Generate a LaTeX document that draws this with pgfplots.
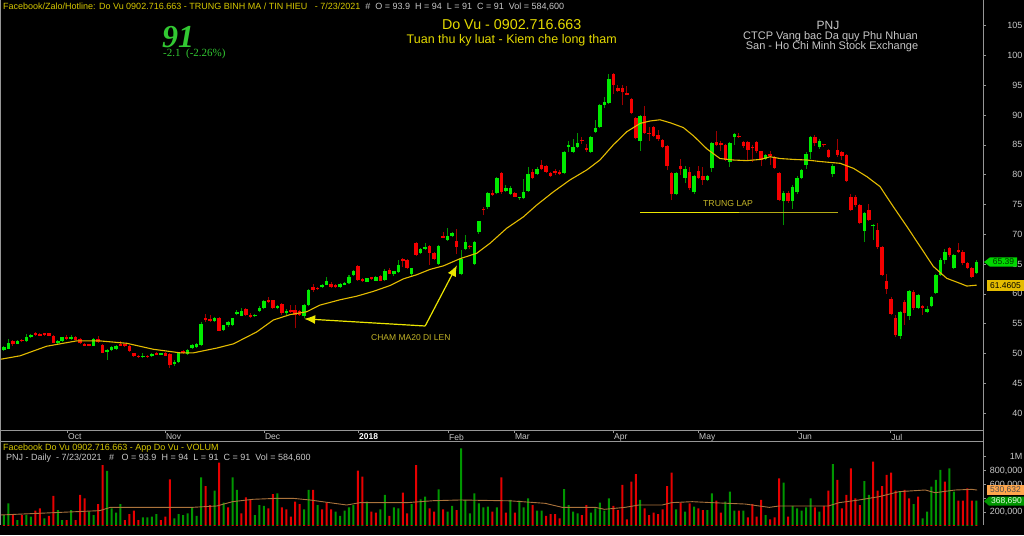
\documentclass[border=0pt]{standalone}
\usepackage{pgfplots}
\pgfplotsset{compat=1.18}
\usepackage{pgfplotstable}
\usepackage{fontspec}
\setmainfont{Liberation Sans}
\newfontfamily\tnr{Liberation Serif}
\usetikzlibrary{arrows.meta}
\definecolor{cg}{RGB}{0,235,0}
\definecolor{cgw}{RGB}{0,150,0}
\definecolor{cr}{RGB}{245,0,0}
\definecolor{crw}{RGB}{160,0,0}
\definecolor{vg}{RGB}{0,150,0}
\definecolor{vr}{RGB}{230,0,0}
\definecolor{ma}{RGB}{228,188,0}
\definecolor{vma}{RGB}{170,115,60}
\definecolor{hdr}{RGB}{215,200,0}
\definecolor{ttl}{RGB}{228,218,0}
\definecolor{gtxt}{RGB}{200,200,200}
\definecolor{axg}{RGB}{150,150,150}
\definecolor{big}{RGB}{50,200,50}
\definecolor{ann}{RGB}{235,230,0}
\definecolor{anntxt}{RGB}{195,180,40}
\definecolor{olive}{RGB}{180,170,20}
\definecolor{lblg}{RGB}{0,215,0}

\pgfplotstableread{
i o h l c
0 50.6 51.2 50.4 51.0
1 50.8 52.4 50.7 51.7
2 52.0 52.2 51.3 51.5
3 51.6 52.2 51.5 52.0
4 52.2 52.4 51.9 52.0
5 52.0 53.3 51.9 52.8
6 52.8 53.3 52.6 53.0
7 53.4 53.6 53.0 53.1
8 53.3 53.5 52.9 53.0
9 53.3 53.5 53.0 53.1
10 53.4 53.5 52.9 53.0
11 52.9 53.1 51.7 51.8
12 51.8 52.3 51.6 52.1
13 52.0 52.8 51.9 52.7
14 52.7 53.1 52.3 52.4
15 52.4 53.1 52.3 52.8
16 52.8 53.0 52.2 52.3
17 52.4 52.6 51.6 51.7
18 51.6 51.8 51.2 51.3
19 51.4 51.6 51.2 51.3
20 51.3 52.6 51.2 52.4
21 52.5 53.0 51.8 51.9
22 51.4 51.6 50.0 50.1
23 50.3 50.7 48.9 50.5
24 50.5 51.2 50.4 51.1
25 50.7 51.4 50.6 51.3
26 51.5 52.0 51.2 51.3
27 51.5 51.6 51.1 51.2
28 51.2 51.4 50.3 50.4
29 50.0 50.1 49.4 49.5
30 49.6 49.8 49.3 49.4
31 49.4 50.0 49.3 49.6
32 49.6 49.8 49.3 49.4
33 49.5 50.0 49.4 49.9
34 50.0 50.3 49.7 49.8
35 49.8 50.1 49.7 50.0
36 50.0 50.2 49.5 49.6
37 49.9 50.0 47.6 48.0
38 48.3 48.9 47.9 48.6
39 48.6 50.1 48.4 50.0
40 50.3 50.5 49.9 50.1
41 49.9 50.7 49.8 50.6
42 50.9 51.6 50.8 51.4
43 51.0 51.7 50.9 51.5
44 51.4 55.2 51.3 55.0
45 56.0 56.6 55.2 55.6
46 55.8 56.5 55.3 55.5
47 55.5 56.1 55.3 55.9
48 55.9 56.1 53.7 53.8
49 53.9 54.8 53.7 54.7
50 54.7 55.4 54.5 55.3
51 54.8 56.0 54.6 55.9
52 56.6 57.3 56.4 57.0
53 56.3 57.6 56.2 57.2
54 57.4 57.7 56.3 56.45
55 56.45 56.7 55.9 56.1
56 56.2 56.6 56.1 56.45
57 57.2 57.9 56.9 57.7
58 57.6 59.0 57.4 58.85
59 59.0 59.5 58.4 58.6
60 58.9 59.0 57.5 57.7
61 57.6 58.1 57.4 57.9
62 58.3 58.5 56.5 56.7
63 56.7 57.4 56.5 57.2
64 57.3 58.1 56.8 57.0
65 57.3 58.1 54.2 56.45
66 57.1 57.3 56.3 56.45
67 56.2 58.3 56.0 58.2
68 58.1 60.8 57.9 60.6
69 61.1 61.6 60.3 60.7
70 61.0 61.2 60.6 60.8
71 61.1 61.7 61.0 61.5
72 61.5 62.8 61.4 62.2
73 61.7 61.9 61.0 61.1
74 61.5 61.7 61.0 61.1
75 61.1 61.8 61.0 61.7
76 61.5 61.9 61.4 61.7
77 61.8 63.1 61.7 62.9
78 63.2 64.0 63.0 63.9
79 64.7 64.9 62.2 62.3
80 62.5 62.7 62.0 62.2
81 62.0 62.7 61.9 62.6
82 62.7 62.9 62.3 62.5
83 62.2 63.0 62.1 62.9
84 63.0 63.2 62.1 62.2
85 62.3 64.1 62.2 63.9
86 64.0 64.4 63.3 63.4
87 63.3 63.9 63.0 63.8
88 63.6 65.6 63.5 64.9
89 65.8 66.0 64.5 65.5
90 65.6 65.8 64.2 64.3
91 63.4 64.4 62.9 64.3
92 68.5 68.7 66.4 66.5
93 66.9 67.7 66.7 67.6
94 67.5 68.5 67.4 67.8
95 68.0 68.2 64.9 66.9
96 66.9 67.0 65.7 65.8
97 65.0 68.2 64.9 68.1
98 69.7 70.3 69.3 69.4
99 69.0 71.0 68.9 69.7
100 69.7 70.4 69.5 70.2
101 68.9 70.8 66.6 67.9
102 63.3 67.4 63.1 65.8
103 67.5 69.9 67.3 68.7
104 68.0 68.2 67.6 67.8
105 65.0 68.9 64.8 68.7
106 70.3 72.3 70.1 72.2
107 74.3 74.6 73.2 74.0
108 74.5 77.0 74.3 76.9
109 76.9 77.5 76.4 76.6
110 76.9 79.6 76.7 79.5
111 80.2 80.4 76.8 77.0
112 77.3 78.3 77.1 77.7
113 76.8 78.1 76.6 77.7
114 76.9 77.1 76.2 76.3
115 76.0 76.3 75.8 76.1
116 76.0 79.3 75.9 77.0
117 77.3 81.2 77.1 80.1
118 80.5 81.0 79.2 79.4
119 80.1 81.2 79.9 81.0
120 81.6 82.4 80.7 80.9
121 81.4 81.6 80.3 80.5
122 80.2 80.4 79.6 79.8
123 80.6 81.0 80.0 80.2
124 80.5 80.7 79.9 80.1
125 80.3 84.0 80.1 83.8
126 84.7 85.7 83.8 85.0
127 83.8 86.0 83.6 84.7
128 84.6 87.0 84.4 85.3
129 85.8 86.3 85.2 85.6
130 84.4 85.1 83.8 84.1
131 83.8 86.5 83.6 86.3
132 87.2 89.2 87.0 87.8
133 88.0 91.9 87.8 91.7
134 91.7 93.0 91.2 92.2
135 92.1 96.9 91.9 96.0
136 96.9 97.0 93.6 95.1
137 94.5 95.0 93.9 94.1
138 94.6 95.0 91.6 93.8
139 93.6 94.9 93.3 93.4
140 92.7 92.9 90.1 90.3
141 89.5 89.7 85.9 86.1
142 85.7 90.0 84.0 89.8
143 89.8 91.5 86.8 87.0
144 87.0 88.0 85.7 86.8
145 88.0 88.2 86.3 86.5
146 86.6 87.5 85.7 85.9
147 85.8 86.0 84.4 84.6
148 84.8 85.0 80.7 81.4
149 80.2 80.5 75.7 76.7
150 76.7 80.5 76.5 80.3
151 81.4 82.7 80.0 80.9
152 79.5 81.5 78.6 81.0
153 80.5 81.2 77.4 77.7
154 77.0 80.0 76.8 79.7
155 80.6 81.5 79.3 79.5
156 79.7 81.3 78.3 79.1
157 79.1 80.0 78.9 79.7
158 81.05 85.5 80.5 85.25
159 85.4 87.4 84.8 85.0
160 85.3 85.6 84.0 85.0
161 85.0 85.2 82.3 82.5
162 82.2 85.5 81.3 85.3
163 86.3 87.0 85.0 86.8
164 86.5 86.9 86.1 86.3
165 85.4 85.6 84.5 84.8
166 85.4 85.6 82.3 84.2
167 84.7 85.0 82.2 84.4
168 85.5 85.7 83.7 83.9
169 83.9 84.0 81.4 82.5
170 82.6 83.5 82.4 83.3
171 83.5 83.9 81.6 83.1
172 83.0 83.2 80.9 81.1
173 80.2 80.5 75.5 75.8
174 75.5 77.3 71.5 76.9
175 76.9 77.3 75.3 75.5
176 75.5 78.2 74.3 77.9
177 77.0 79.7 76.8 79.5
178 79.5 81.0 79.2 80.7
179 81.6 83.8 81.0 83.5
180 83.85 86.5 82.7 86.25
181 86.25 86.6 84.8 85.25
182 84.7 86.0 84.3 85.7
183 85.0 85.2 84.7 84.9
184 84.1 84.3 82.8 83.0
185 80.1 81.7 79.6 81.45
186 84.1 85.9 83.0 83.3
187 83.85 84.0 82.5 83.1
188 83.3 83.5 78.8 79.0
189 76.3 76.8 73.9 74.1
190 76.3 76.5 74.5 74.9
191 74.9 75.0 71.7 71.9
192 70.6 73.7 68.7 73.5
193 74.1 75.0 72.2 72.4
194 71.3 71.7 69.0 71.5
195 70.7 71.8 67.6 67.8
196 67.9 68.0 63.0 63.2
197 62.2 63.3 60.0 60.75
198 59.2 59.5 56.4 56.6
199 55.9 56.5 52.7 53.1
200 52.9 57.2 52.5 57.0
201 58.7 59.0 54.8 56.85
202 56.2 60.6 55.6 60.4
203 60.25 60.7 57.3 57.6
204 57.6 60.0 57.4 59.8
205 57.9 58.1 56.5 57.6
206 57.0 58.0 56.8 57.4
207 57.96 59.6 57.8 59.4
208 60.1 63.4 60.0 63.2
209 63.2 66.0 63.0 65.7
210 65.6 67.6 65.0 67.1
211 67.7 67.8 66.2 66.5
212 64.3 66.7 64.1 66.5
213 67.3 68.6 66.8 67.0
214 67.1 67.3 64.9 65.1
215 65.1 65.3 64.1 64.3
216 64.3 64.5 62.7 62.9
217 63.55 65.6 63.4 65.39
}\candles

\pgfplotstableread{
i v g
0 161000 1
1 329000 1
2 161000 0
3 89000 1
4 161000 0
5 161000 1
6 137000 1
7 224000 0
8 257000 0
9 113000 1
10 147000 0
11 435000 0
12 233000 1
13 89000 1
14 89000 0
15 233000 1
16 89000 0
17 449000 0
18 401000 0
19 209000 1
20 161000 1
21 319000 0
22 880000 0
23 795000 1
24 257000 1
25 195000 1
26 319000 1
27 89000 0
28 175000 0
29 224000 0
30 89000 0
31 127000 1
32 127000 1
33 137000 1
34 175000 1
35 89000 0
36 137000 0
37 674000 0
38 113000 1
39 175000 1
40 161000 1
41 185000 1
42 271000 1
43 147000 1
44 703000 1
45 578000 0
46 305000 0
47 511000 1
48 913000 0
49 339000 1
50 271000 0
51 703000 1
52 521000 1
53 185000 0
54 415000 0
55 387000 0
56 161000 1
57 305000 1
58 291000 1
59 257000 0
60 463000 0
61 473000 1
62 271000 0
63 243000 0
64 137000 0
65 353000 0
66 319000 0
67 243000 1
68 521000 1
69 521000 0
70 305000 1
71 243000 0
72 339000 0
73 243000 0
74 209000 1
75 147000 1
76 224000 1
77 271000 1
78 305000 1
79 799000 0
80 713000 0
81 353000 1
82 209000 0
83 195000 0
84 243000 1
85 449000 1
86 147000 0
87 271000 1
88 257000 1
89 482000 0
90 185000 0
91 319000 1
92 880000 0
93 387000 1
94 425000 1
95 257000 0
96 209000 0
97 530000 1
98 243000 0
99 209000 1
100 291000 1
101 233000 0
102 1120000 1
103 377000 1
104 185000 1
105 473000 1
106 329000 1
107 271000 1
108 281000 1
109 209000 0
110 271000 1
111 703000 0
112 195000 0
113 377000 1
114 195000 0
115 367000 1
116 271000 1
117 401000 1
118 305000 0
119 224000 1
120 224000 1
121 147000 0
122 175000 0
123 175000 0
124 113000 0
125 535000 1
126 305000 1
127 209000 1
128 185000 1
129 161000 0
130 305000 0
131 195000 1
132 257000 1
133 339000 1
134 224000 1
135 401000 1
136 291000 0
137 233000 0
138 593000 0
139 99000 0
140 641000 0
141 751000 0
142 377000 1
143 257000 0
144 161000 0
145 195000 0
146 175000 0
147 243000 0
148 578000 0
149 770000 0
150 243000 1
151 339000 0
152 209000 1
153 329000 0
154 281000 1
155 257000 0
156 233000 0
157 233000 1
158 473000 1
159 367000 0
160 195000 0
161 353000 1
162 497000 1
163 224000 1
164 224000 0
165 224000 1
166 127000 0
167 319000 0
168 137000 0
169 377000 0
170 161000 1
171 99000 0
172 127000 0
173 689000 0
174 626000 1
175 137000 0
176 291000 1
177 257000 1
178 224000 1
179 271000 1
180 401000 1
181 271000 0
182 209000 1
183 291000 0
184 511000 0
185 894000 1
186 665000 0
187 257000 0
188 449000 0
189 833000 0
190 401000 0
191 305000 0
192 650000 1
193 449000 1
194 928000 0
195 511000 0
196 578000 0
197 737000 0
198 770000 0
199 511000 0
200 506000 1
201 521000 0
202 401000 0
203 319000 1
204 425000 0
205 113000 1
206 209000 1
207 569000 1
208 665000 1
209 809000 1
210 641000 0
211 833000 1
212 497000 1
213 367000 0
214 367000 0
215 545000 0
216 367000 0
217 368690 1
}\vol

\begin{document}
\begin{tikzpicture}[x=1pt,y=1pt]
\useasboundingbox (0pt,0pt) rectangle (1024pt,535pt);
\fill[black] (0pt,0pt) rectangle (1024pt,535pt);

% ---------------- price panel ----------------
\begin{axis}[
  at={(0pt,105pt)}, anchor=south west,
  width=983pt, height=430pt, scale only axis,
  xmin=-0.89, xmax=218.5, ymin=37.15, ymax=109.3,
  axis x line*=bottom, axis y line*=right,
  axis line style={draw=axg, line width=0.8pt, -},
  xtick={14.06,35.9,58.0,79.0,99.1,113.8,135.9,154.9,177.0,197.8},
  xticklabels={Oct,Nov,Dec,\textbf{\color{white}2018},Feb,Mar,Apr,May,Jun,Jul},
  ytick={40,45,...,105},
  tick align=outside, major tick length=3pt,
  tick style={draw=axg, line width=0.6pt},
  xticklabel style={font=\fontsize{8.5}{9}\selectfont, text=gtxt, anchor=west, yshift=-4pt, xshift=0.5pt, inner sep=0.5pt},
  yticklabel style={font=\fontsize{9}{9}\selectfont, text=gtxt, anchor=east, xshift=40pt},
  /pgf/number format/assume math mode=true,
  clip=true,
]
% wicks (rows of the other colour get a zero-length, invisible bar)
\addplot[draw=none, mark=none, forget plot, error bars/.cd, y dir=plus, y explicit, error mark=none,
  error bar style={draw=cgw, line width=1pt, solid, line cap=butt}]
  table[x=i, y=l, y error plus expr={ifthenelse(\thisrow{c}>=\thisrow{o},\thisrow{h}-\thisrow{l},0)}] {\candles};
\addplot[draw=none, mark=none, forget plot, error bars/.cd, y dir=plus, y explicit, error mark=none,
  error bar style={draw=crw, line width=1pt, solid, line cap=butt}]
  table[x=i, y=l, y error plus expr={ifthenelse(\thisrow{c}<\thisrow{o},\thisrow{h}-\thisrow{l},0)}] {\candles};
% bodies
\addplot[draw=none, mark=none, forget plot, error bars/.cd, y dir=plus, y explicit, error mark=none,
  error bar style={draw=cg, line width=3.5pt, solid, line cap=butt}]
  table[x=i, y=o, y error plus expr={ifthenelse(\thisrow{c}>=\thisrow{o},max(\thisrow{c}-\thisrow{o},0.25),0)}] {\candles};
\addplot[draw=none, mark=none, forget plot, error bars/.cd, y dir=plus, y explicit, error mark=none,
  error bar style={draw=cr, line width=3.5pt, solid, line cap=butt}]
  table[x=i, y=c, y error plus expr={ifthenelse(\thisrow{c}<\thisrow{o},max(\thisrow{o}-\thisrow{c},0.25),0)}] {\candles};
% MA20
\addplot[ma, line width=1.1pt, mark=none] coordinates {
(-0.9,49.0) (3.6,49.6) (9.5,51.2) (16.2,52.1) (21.4,52.1) (27.4,51.7) (33.3,50.7) (39.3,50.1)
(42.3,50.1) (47.5,50.9) (51.2,51.6) (56.4,53.6) (60.1,55.6) (63.8,56.5) (67.6,57.0) (70.5,58.1)
(75.0,59.0) (78.7,59.6) (82.4,60.4) (86.2,61.4) (89.1,62.5) (92.1,63.2) (95.1,64.1) (98.1,64.7)
(101.8,65.9) (105.5,66.8) (108.5,68.5) (112.2,71.0) (115.9,72.9) (118.9,74.9) (122.6,77.1)
(126.3,79.1) (130.1,80.8) (133.0,82.45) (136.0,85.0) (139.0,87.2) (142.0,88.6) (144.2,89.0)
(146.4,89.2) (148.7,88.7) (151.6,87.9) (153.9,86.5) (156.9,84.3) (159.8,82.7) (162.8,82.45)
(165.8,82.35) (168.8,82.55) (171.0,83.0) (173.2,82.7) (176.2,82.55) (179.2,82.45) (182.1,82.2)
(186.6,81.9) (189.6,81.05) (192.6,79.65) (195.5,78.0) (198.5,74.6) (201.5,71.3) (204.5,67.9)
(207.4,64.6) (210.4,62.6) (213.4,61.75) (214.9,61.3) (217.1,61.46)};
% annotations
\draw[ann, line width=1.2pt, -{Latex[length=11pt,width=9pt]}] (axis cs:94.0,54.6) -- (axis cs:67.0,55.8);
\draw[ann, line width=1.2pt, -{Latex[length=11pt,width=9pt]}] (axis cs:94.0,54.6) -- (axis cs:101.1,64.8);
\node[anchor=base west, inner sep=0pt, text=anntxt, font=\fontsize{8.5}{9}\selectfont] at (axis cs:81.9,52.25) {CHAM MA20 DI LEN};
\draw[ann, line width=1.1pt] (axis cs:142.0,73.6) -- (axis cs:164.1,73.6);
\draw[olive, line width=1.1pt] (axis cs:164.1,73.65) -- (axis cs:186.2,73.65);
\node[anchor=base west, inner sep=0pt, text=anntxt, font=\fontsize{8.7}{9}\selectfont] at (axis cs:156.0,74.7) {TRUNG LAP};
\end{axis}

% ---------------- volume panel ----------------
\begin{axis}[
  at={(0pt,10pt)}, anchor=south west,
  width=983pt, height=84pt, scale only axis,
  xmin=-0.89, xmax=218.5, ymin=17300, ymax=1225800,
  axis x line=none, axis y line*=right,
  axis line style={draw=axg, line width=0.8pt, -},
  ytick={200000,400000,600000,800000,1000000},
  yticklabels={{200,000},{},{600,000},{800,000},{1M}},
  scaled y ticks=false,
  tick align=outside, major tick length=3pt,
  tick style={draw=axg, line width=0.6pt},
  yticklabel style={font=\fontsize{9}{9}\selectfont, text=gtxt, anchor=east, xshift=40pt},
  clip=true,
]
\addplot[ybar, bar width=2pt, bar shift=0pt, fill=vg, draw=none, forget plot]
  table[x=i, y expr={\thisrow{v}*\thisrow{g}}] {\vol};
\addplot[ybar, bar width=2pt, bar shift=0pt, fill=vr, draw=none, forget plot]
  table[x=i, y expr={\thisrow{v}*(1-\thisrow{g})}] {\vol};
\addplot[vma, line width=0.9pt, mark=none] coordinates {
(-0.9,161000) (21.4,224000) (23.7,271000) (42,271000) (47.5,291000) (51,353000) (55.6,387000)
(61,401000) (64.5,401000) (68.3,377000) (76.5,305000) (79.5,339000) (90,339000) (95.8,367000)
(101.8,377000) (113,365000) (120.8,329000) (124.6,271000) (132,271000) (134,243000) (138.6,271000)
(141.7,305000) (146.9,305000) (149,339000) (153.6,353000) (158,339000) (165.4,319000) (170.8,271000)
(173,291000) (184,291000) (186.4,339000) (190.8,377000) (195.3,425000) (199.8,497000) (205.6,521000)
(207.8,482000) (212.3,521000) (216,530000) (217.2,520000)};
\end{axis}

% ---------------- frame and strip ----------------
\draw[axg, line width=0.8pt] (0pt,94pt) -- (983pt,94pt);
\draw[axg, line width=0.8pt] (983pt,94pt) -- (983pt,105pt);
\draw[axg, line width=0.8pt] (0.5pt,10pt) -- (0.5pt,535pt);

% ---------------- texts ----------------
\node[anchor=base west, inner sep=0pt, font=\fontsize{9}{9}\selectfont] at (3pt,525.7pt)
 {\color{hdr}Facebook/Zalo/Hotline: Do Vu 0902.716.663 - TRUNG BINH MA / TIN HIEU\ \ \ - 7/23/2021\ \ \color{gtxt}\#\ \ O = 93.9\ \ H = 94\ \ L = 91\ \ C = 91\ \ Vol = 584,600};
\node[anchor=base west, inner sep=0pt, text=big, font=\tnr\bfseries\itshape\fontsize{32}{32}\selectfont] at (162pt,487pt) {91};
\node[anchor=base west, inner sep=0pt, text=big, font=\tnr\fontsize{11}{11}\selectfont] at (163pt,478pt) {-2.1\ \ (-2.26\%)};
\node[anchor=base, inner sep=0pt, text=ttl, font=\fontsize{14.3}{15}\selectfont] at (511.7pt,505pt) {Do Vu - 0902.716.663};
\node[anchor=base, inner sep=0pt, text=ttl, font=\fontsize{12.5}{13}\selectfont] at (511.7pt,491.7pt) {Tuan thu ky luat - Kiem che long tham};
\node[anchor=base, inner sep=0pt, text=gtxt, font=\fontsize{12}{12}\selectfont] at (828pt,505.7pt) {PNJ};
\node[anchor=base, inner sep=0pt, text=gtxt, font=\fontsize{11}{11}\selectfont] at (830.5pt,495.7pt) {CTCP Vang bac Da quy Phu Nhuan};
\node[anchor=base, inner sep=0pt, text=gtxt, font=\fontsize{11}{11}\selectfont] at (832pt,485pt) {San - Ho Chi Minh Stock Exchange};
\node[anchor=base west, inner sep=0pt, text=hdr, font=\fontsize{9}{9}\selectfont] at (3pt,84.3pt) {Facebook Do Vu 0902.716.663 - App Do Vu - VOLUM};
\node[anchor=base west, inner sep=0pt, text=gtxt, font=\fontsize{9}{9}\selectfont] at (6pt,74.3pt) {PNJ - Daily\ \ - 7/23/2021\ \ \ \#\ \ \ O = 93.9\ \ H = 94\ \ L = 91\ \ C = 91\ \ Vol = 584,600};

% price label boxes
\fill[lblg] (984pt,273pt) -- (990pt,277.7pt) -- (1017pt,277.7pt) -- (1017pt,268.3pt) -- (990pt,268.3pt) -- cycle;
\node[inner sep=0pt, text=black!80!green, font=\fontsize{8.5}{9}\selectfont] at (1003.5pt,273pt) {65.39};
\fill[ma] (986.7pt,255pt) rectangle (1024pt,244.3pt);
\node[inner sep=0pt, text=black, font=\fontsize{8.5}{9}\selectfont] at (1005.5pt,249.6pt) {61.4605};
\fill[orange!70!white] (987pt,49.7pt) rectangle (1024pt,40.3pt);
\node[inner sep=0pt, text=black!70, font=\fontsize{8.5}{9}\selectfont] at (1005.5pt,45pt) {530,632};
\fill[vg] (984pt,33.8pt) -- (989pt,38.3pt) -- (1024pt,38.3pt) -- (1024pt,29.3pt) -- (989pt,29.3pt) -- cycle;
\node[inner sep=0pt, text=white!90!green, font=\fontsize{8.5}{9}\selectfont] at (1006.5pt,33.8pt) {368,690};
\end{tikzpicture}
\end{document}
